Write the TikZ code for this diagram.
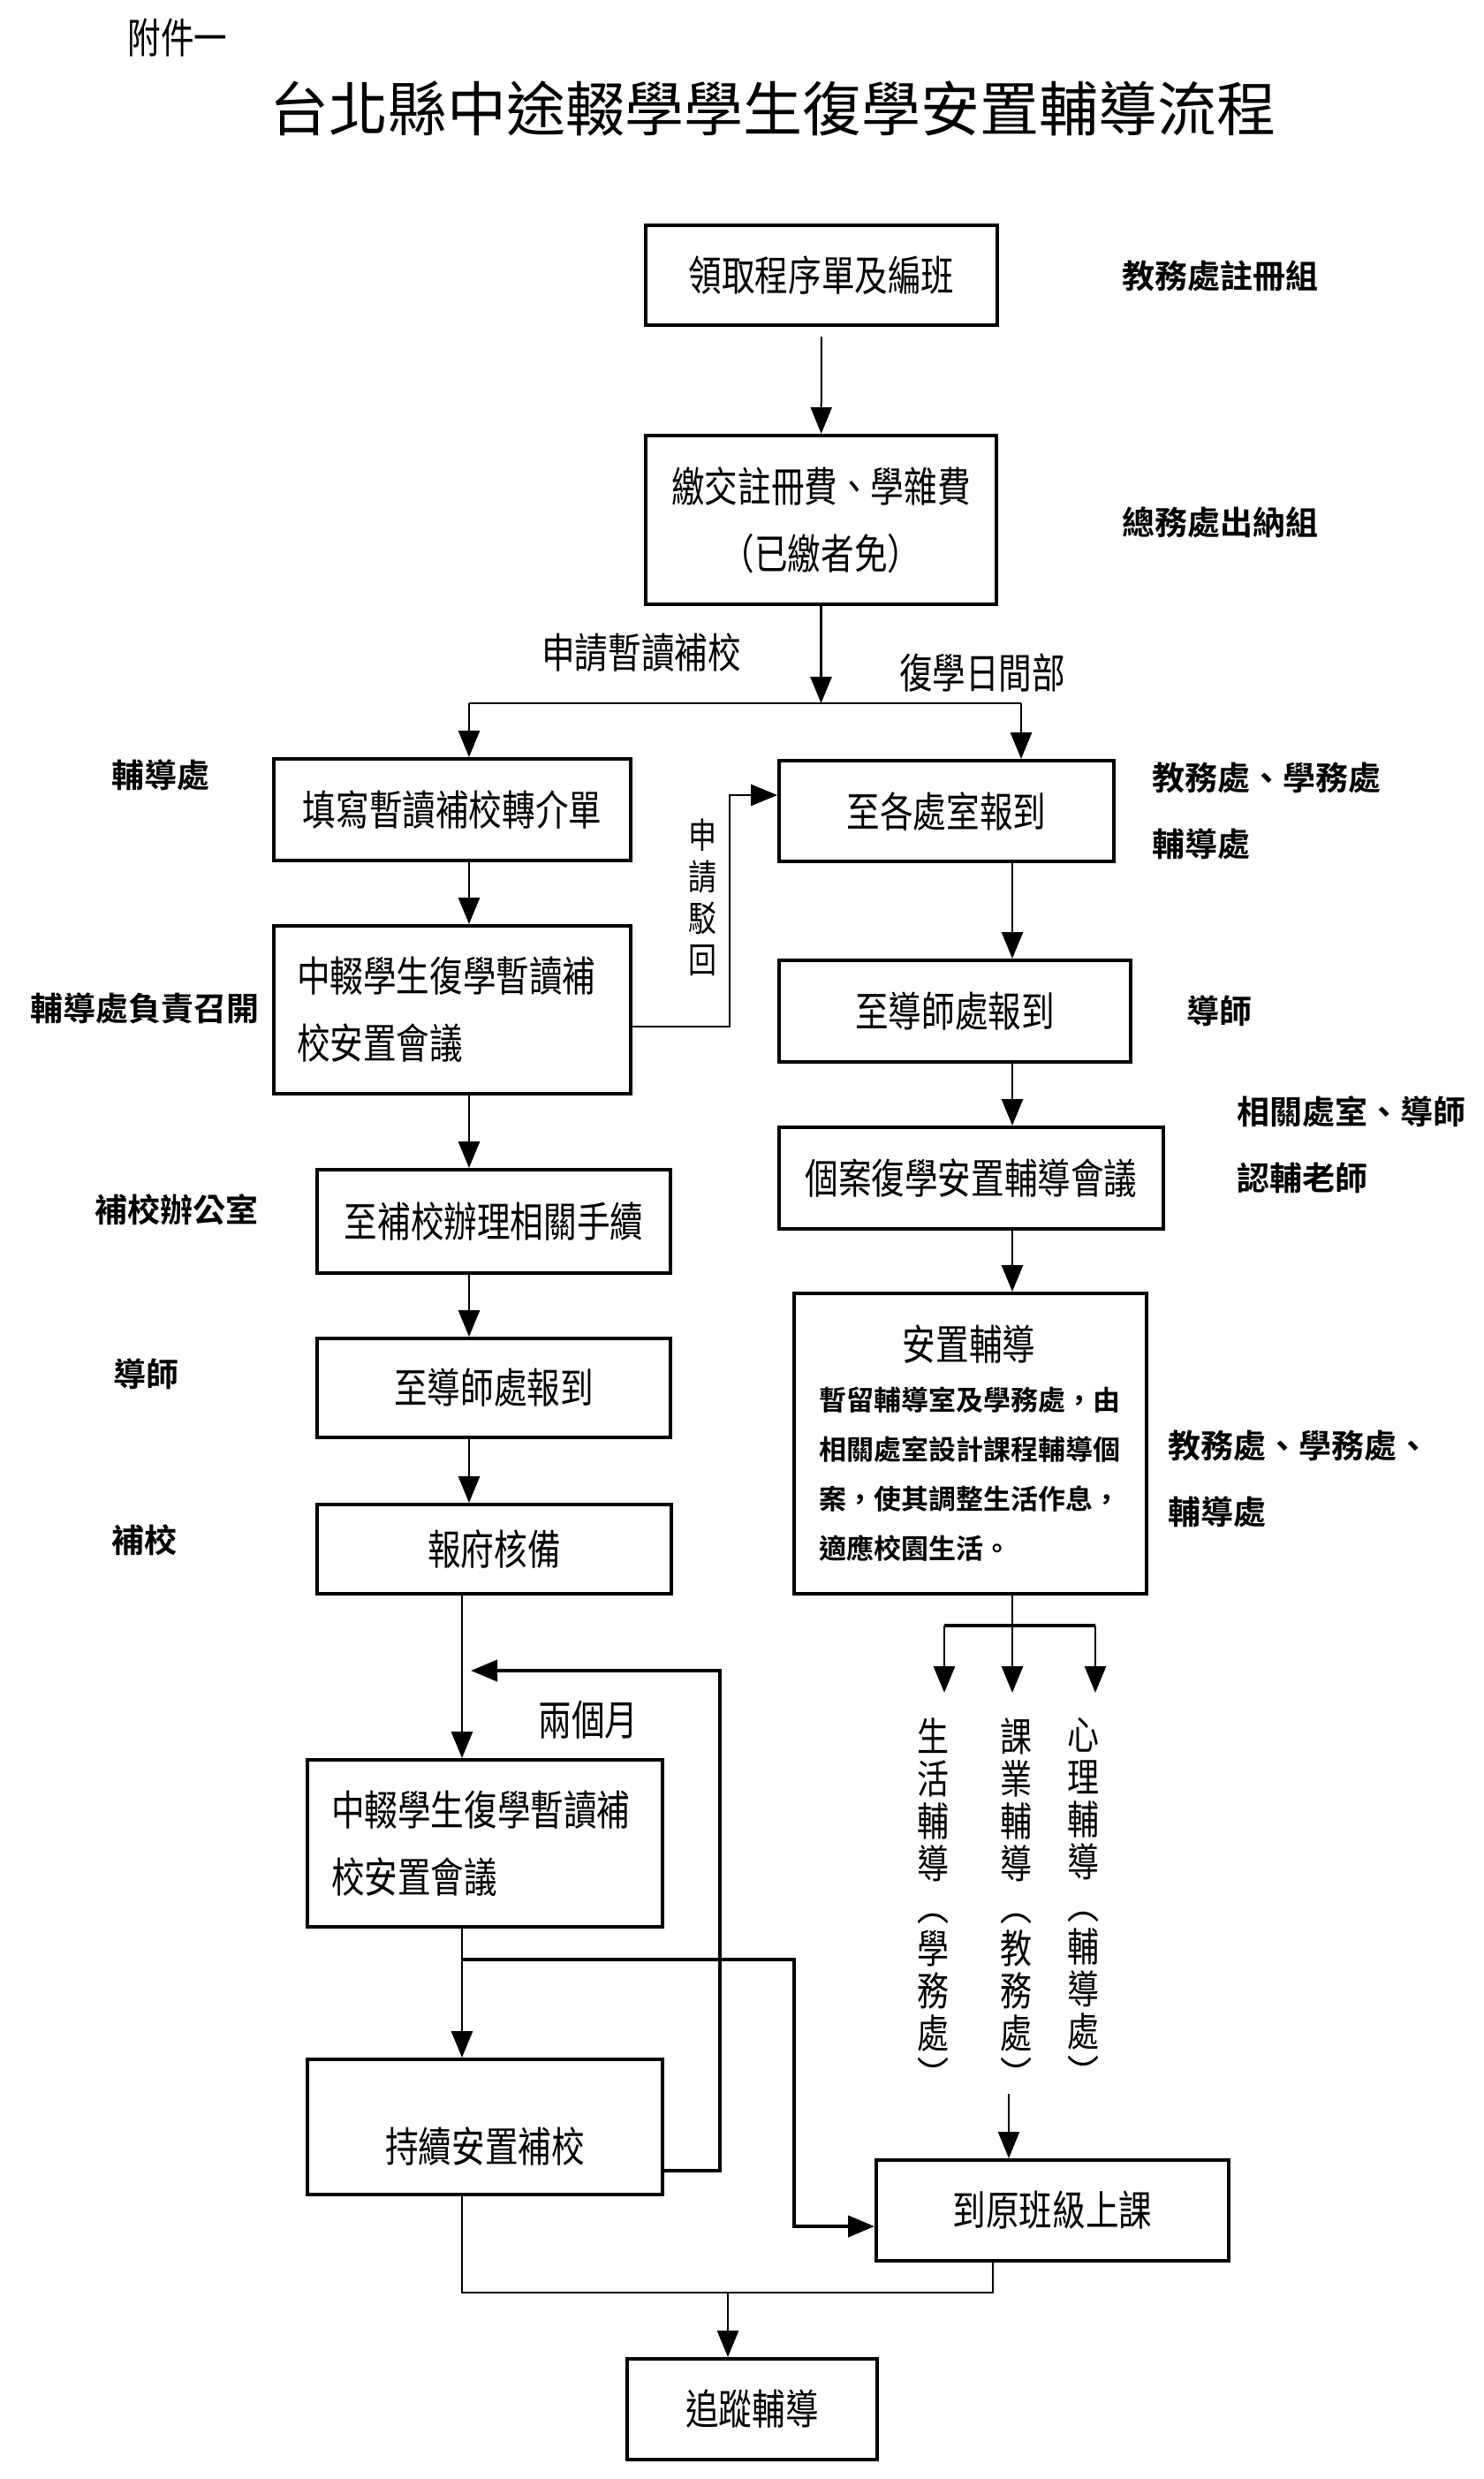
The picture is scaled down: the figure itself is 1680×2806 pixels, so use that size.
\documentclass[tikz,border=0pt]{standalone}
\usepackage{fontspec}
\usetikzlibrary{arrows.meta,positioning,calc}
\newfontfamily\boxfont[FakeStretch=0.8]{Noto Sans CJK TC}
\newfontfamily\labfont{Noto Sans CJK TC Bold}
\newfontfamily\titlefont{Noto Sans CJK TC}
\newcommand{\boxsize}{\fontsize{23.5pt}{38pt}\selectfont}
\newcommand{\labsize}{\fontsize{18.5pt}{37.5pt}\selectfont}
\newcommand{\smallsize}{\fontsize{15.5pt}{28pt}\selectfont}
\begin{document}
\begin{tikzpicture}[x=0.5pt,y=-0.5pt,
    box/.style={draw,line width=2pt,inner sep=0pt,font=\boxfont\boxsize},
    lab/.style={font=\labfont\labsize,inner sep=0pt},
    note/.style={font=\boxfont\boxsize,inner sep=0pt},
    vtext/.style={font=\boxfont\fontsize{22.5pt}{24pt}\selectfont,align=center,inner sep=0pt,anchor=north},
    arr/.style={line width=1.4pt,-{Triangle[length=15pt,width=12pt]}},
    flow/.style={line width=1.4pt},
    heavy/.style={line width=2pt}]
  \useasboundingbox (0,0) rectangle (1680,2806);

  % heading
  \node[note] (annex) at (201,43) {附件一};
  \node[font=\titlefont\fontsize{33.5pt}{40pt}\selectfont,inner sep=0pt] (title) at (875,123)
    {台北縣中途輟學學生復學安置輔導流程};

  % common steps
  \node[box,minimum width=199pt,minimum height=56.5pt] (b1) at (930,311.5) {領取程序單及編班};
  \node[box,minimum width=198.5pt,minimum height=95.5pt,align=center] (b2) at (929.5,588.5)
    {繳交註冊費、學雜費\\（已繳者免）};

  % night school side
  \node[box,minimum width=202pt,minimum height=57.5pt] (b3) at (512,916.5) {填寫暫讀補校轉介單};
  \node[box,text width=176pt,inner xsep=13pt,minimum height=95pt,align=left] (b4) at (512,1143)
    {中輟學生復學暫讀補\\校安置會議};
  \node[box,minimum width=200pt,minimum height=58.5pt] (b5) at (559,1382.5) {至補校辦理相關手續};
  \node[box,minimum width=200pt,minimum height=56pt] (b6) at (559,1571) {至導師處報到};
  \node[box,minimum width=200.5pt,minimum height=50.5pt] (b7) at (559.5,1753.5) {報府核備};
  \node[box,text width=174pt,inner xsep=13.5pt,minimum height=94.5pt,align=left] (b8) at (549,2086.5)
    {中輟學生復學暫讀補\\校安置會議};
  \node[box,minimum width=201pt,minimum height=76.5pt,text height=40pt,text depth=0pt] (b9) at (549,2407.5)
    {持續安置補校};

  % day school side
  \node[box,minimum width=189.5pt,minimum height=57pt] (b10) at (1071.5,918) {至各處室報到};
  \node[box,minimum width=199pt,minimum height=57.5pt] (b11) at (1081,1144.5) {至導師處報到};
  \node[box,minimum width=217.5pt,minimum height=57.5pt] (b12) at (1099.5,1333.5) {個案復學安置輔導會議};
  \node[box,minimum width=199.5pt,minimum height=170pt] (b13) at (1098.5,1634) {};
  \node[note] (b13head) at (1097,1522) {安置輔導};
  \node[font=\labfont\smallsize,align=left,inner sep=0pt,anchor=west] (b13body) at (927,1668)
    {暫留輔導室及學務處，由\\相關處室設計課程輔導個\\案，使其調整生活作息，\\適應校園生活。};
  \node[vtext] (vt1) at (1056,1944) {生\\活\\輔\\導\\︵\\學\\務\\處\\︶};
  \node[vtext] (vt2) at (1150,1944) {課\\業\\輔\\導\\︵\\教\\務\\處\\︶};
  \node[vtext] (vt3) at (1226,1944) {心\\理\\輔\\導\\︵\\輔\\導\\處\\︶};
  \node[box,minimum width=199.5pt,minimum height=57pt] (b14) at (1191.5,2502) {到原班級上課};
  \node[box,minimum width=141.5pt,minimum height=57pt] (b15) at (851.5,2727) {追蹤輔導};

  % offices in charge
  \node[lab] (o1) at (1381,312) {教務處註冊組};
  \node[lab] (o2) at (1381,591) {總務處出納組};
  \node[lab] (o3) at (181.5,877) {輔導處};
  \node[lab,align=left,anchor=west] (o4) at (1304,917.5) {教務處、學務處\\輔導處};
  \node[lab] (o5) at (163.5,1141) {輔導處負責召開};
  \node[lab] (o6) at (1380.5,1144) {導師};
  \node[lab,align=left,anchor=west] (o7) at (1400,1295.5) {相關處室、導師\\認輔老師};
  \node[lab] (o8) at (199.5,1369) {補校辦公室};
  \node[lab] (o9) at (165,1555) {導師};
  \node[lab,align=left,anchor=west] (o10) at (1322,1674) {教務處、學務處、\\輔導處};
  \node[lab] (o11) at (163.5,1743) {補校};

  % branch texts
  \node[note] (askN) at (726,739) {申請暫讀補校};
  \node[note] (askD) at (1112,762) {復學日間部};
  \node[note,font=\boxfont\fontsize{20pt}{23.5pt}\selectfont,align=center] (deny) at (795,1016)
    {申\\請\\駁\\回};
  \node[note] (twoM) at (666,1947) {兩個月};

  % helper points
  \coordinate (colL) at (531,0);
  \coordinate (colM) at (523,0);
  \coordinate (colR) at (1146,0);
  \coordinate (splitL) at (531,796);
  \coordinate (splitR) at (1156,796);
  \coordinate (rejB) at (826,1162);
  \coordinate (rejT) at (826,900);
  \coordinate (fork) at (1146,1840);
  \coordinate (forkL) at (1069,1840);
  \coordinate (forkR) at (1240,1840);
  \coordinate (loopR) at (815,2457);
  \coordinate (loopT) at (815,1891);
  \coordinate (loopL) at (533,1891);
  \coordinate (toDay) at (899,2218);
  \coordinate (toClass) at (1142,2370);
  \coordinate (merge) at (824,2595);
  \coordinate (mergeR) at (1124,2595);

  % connectors
  \draw[arr,line width=1pt,shorten <=5.5pt] (b1) -- (b2);
  \draw[arr] (b2.south) -- (b2.south |- splitL);
  \draw[flow] (splitL) -- (splitR);
  \draw[arr] (splitL) -- (splitL |- b3.north);
  \draw[arr] (splitR) -- (splitR |- b10.north);

  \draw[arr] (b3.south -| colL) -- (b4.north -| colL);
  \draw[arr] (b4.south -| colL) -- (b5.north -| colL);
  \draw[arr] (b5.south -| colL) -- (b6.north -| colL);
  \draw[arr] (b6.south -| colL) -- (b7.north -| colL);
  \draw[arr] (b4.east |- rejB) -- (rejB) -- (rejT) -- (rejT -| b10.west);

  \draw[arr] (b7.south -| colM) -- (b8.north -| colM);
  \draw[arr] (b8.south -| colM) -- (b9.north -| colM);
  \draw[arr,heavy] (b9.east |- loopR) -- (loopR) -- (loopT) -- (loopL);
  \draw[arr,heavy] (colM |- toDay) -- (toDay) |- ($(b14.west)+(0,18)$);
  \draw[flow] (b9.south -| colM) |- (mergeR) -- (mergeR |- b14.south);
  \draw[arr] (merge) -- (merge |- b15.north);

  \draw[arr] (b10.south -| colR) -- (b11.north -| colR);
  \draw[arr] (b11.south -| colR) -- (b12.north -| colR);
  \draw[arr] (b12.south -| colR) -- (b13.north -| colR);
  \draw[flow] (b13.south -| colR) -- (fork);
  \draw[heavy] (forkL) -- (forkR);
  \draw[arr,shorten >=14pt] (forkL) -- (forkL |- vt1.north);
  \draw[arr,shorten >=14pt] (fork) -- (fork |- vt2.north);
  \draw[arr,shorten >=14pt] (forkR) -- (forkR |- vt3.north);
  \draw[arr,line width=1pt] (toClass) -- (toClass |- b14.north);
\end{tikzpicture}
\end{document}
